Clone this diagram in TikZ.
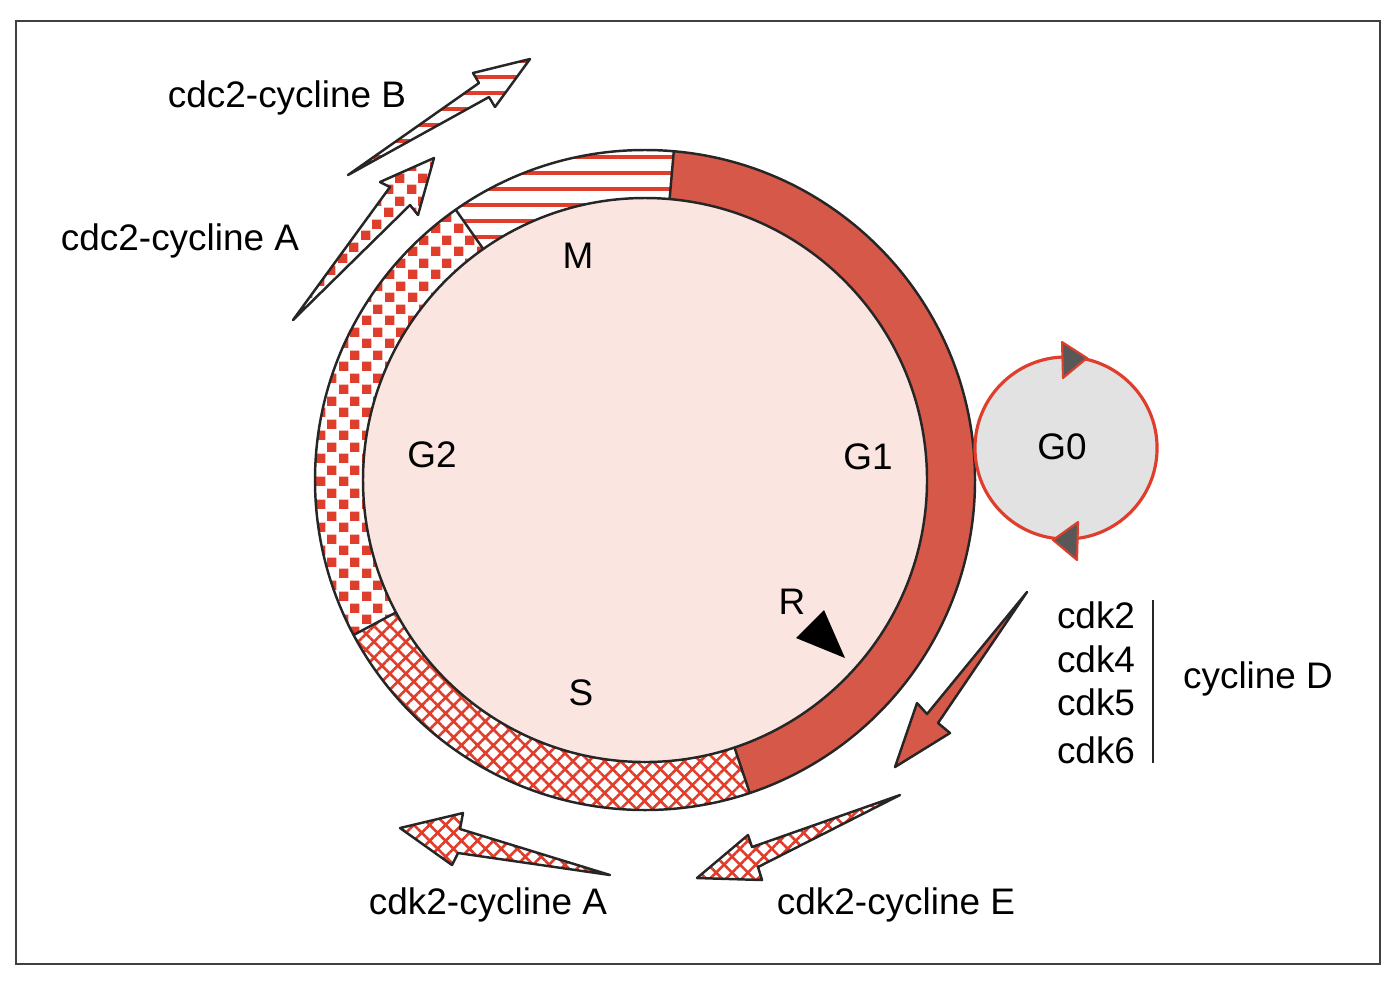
\documentclass[tikz,border=0pt]{standalone}
\usepackage{fontspec}
\setmainfont{Liberation Sans}
\usetikzlibrary{patterns,patterns.meta}

\definecolor{ringred}{RGB}{214,88,72}
\definecolor{hatchred}{RGB}{224,62,44}
\definecolor{cellpink}{RGB}{251,229,225}
\definecolor{restgrey}{RGB}{226,226,226}
\definecolor{headgrey}{RGB}{88,88,88}

\pgfdeclarepatternformonly{redsquares}{\pgfpointorigin}{\pgfqpoint{6.4pt}{6.4pt}}{\pgfqpoint{6.4pt}{6.4pt}}{%
	\pgfpathrectangle{\pgfpointorigin}{\pgfqpoint{2.7pt}{2.7pt}}%
	\pgfpathrectangle{\pgfqpoint{3.2pt}{3.2pt}}{\pgfqpoint{2.7pt}{2.7pt}}%
	\pgfusepath{fill}}

\newcommand{\ringpart}[2]{(#1:330) arc[start angle=#1,end angle=#2,radius=330] -- (#2:282) arc[start angle=#2,end angle=#1,radius=282] -- cycle}
\newcommand{\stripefill}[2]{\begin{scope}\clip #1;
	\foreach \k in {0,...,14}
		\draw[hatchred,line width=1.1pt] (-500,#2-16*\k) -- (800,#2-16*\k);
	\end{scope}}

\begin{document}
\begin{tikzpicture}
		[x=0.01cm,y=0.01cm,
		txt/.style={font=\fontsize{10.5}{12}\selectfont,inner sep=0pt},
		outline/.style={draw=black!85,line width=0.7pt,line join=round},
		squares/.style={pattern=redsquares,pattern color=hatchred},
		crossgrid/.style={pattern={Hatch[angle=45,distance=3.2pt,line width=0.75pt]},pattern color=hatchred},
		g1fill/.style={fill=ringred},
		restcircle/.style={circle,draw=hatchred,fill=restgrey,line width=0.9pt,inner sep=0pt,minimum size=1.82cm},
		turnhead/.style={fill=headgrey,draw=hatchred,line width=0.6pt,line join=round}]
		\useasboundingbox (0,0) rectangle (1392,-984);
		\draw[black!75,line width=0.6pt] (16,-21) rectangle (1380,-964);
		\begin{scope}[shift={(645,-480)}]
			\fill[cellpink] (0,0) circle [radius=282];
			\stripefill{\ringpart{85}{125}}{339}
			\path[squares] \ringpart{125}{208};
			\path[crossgrid] \ringpart{208}{288.5};
			\path[g1fill] \ringpart{-71.5}{85};
			\draw[outline] (0,0) circle [radius=330] (0,0) circle [radius=282];
			\foreach \a in {85,125,208,288.5}
				\draw[outline] (\a:282) -- (\a:330);
		\end{scope}
		\node at (578,-256) (M) [txt] {M};
		\node at (432,-455) (G2) [txt] {G2};
		\node at (868,-457) (G1) [txt] {G1};
		\node at (581,-693) (S) [txt] {S};
		\node at (792,-602) (R) [txt] {R};
		\fill[black] (796,-638) -- (824,-610) -- (845,-658) -- cycle;
		\node at (1066,-448) (G0) [restcircle] {};
		\node at (1062,-447) (G0txt) [txt] {G0};
		\draw[turnhead] (1062,-342) -- (1087,-358) -- (1063,-378) -- cycle;
		\draw[turnhead] (1078,-522) -- (1053,-540) -- (1077,-560) -- cycle;
		\stripefill{(348,-175) -- (479,-83) -- (473,-73) -- (530,-59) -- (495,-107) -- (489,-97) -- cycle}{-61}
		\draw[outline] (348,-175) -- (479,-83) -- (473,-73) -- (530,-59) -- (495,-107) -- (489,-97) -- cycle;
		\draw[outline,squares] (293,-320) -- (390,-187) -- (380,-182) -- (434,-158) -- (418,-215) -- (410,-205) -- cycle;
		\draw[outline,crossgrid] (610,-875) -- (460,-829) -- (463,-813) -- (400,-828) -- (452,-865) -- (458,-853) -- cycle;
		\draw[outline,crossgrid] (900,-795) -- (752,-847) -- (748,-835) -- (697,-878) -- (762,-880) -- (758,-867) -- cycle;
		\draw[outline,g1fill] (1027,-592) -- (927,-714) -- (917,-703) -- (895,-767) -- (950,-733) -- (938,-723) -- cycle;
		\node at (287,-98) (cdcB) [txt] {cdc2-cycline B};
		\node at (180,-241) (cdcA) [txt] {cdc2-cycline A};
		\node at (488,-905) (cdkA) [txt] {cdk2-cycline A};
		\node at (896,-905) (cdkE) [txt] {cdk2-cycline E};
		\node at (1096,-615) (cdk2) [txt] {cdk2};
		\node at (1096,-659) (cdk4) [txt] {cdk4};
		\node at (1096,-702) (cdk5) [txt] {cdk5};
		\node at (1096,-750) (cdk6) [txt] {cdk6};
		\node at (1258,-679) (cycD) [txt] {cycline D};
		\coordinate (dtop) at (1153,-600);
		\coordinate (dbot) at (1153,-763);
		\draw[black!85,line width=0.6pt] (dtop) -- (dbot);
	\end{tikzpicture}
\end{document}
